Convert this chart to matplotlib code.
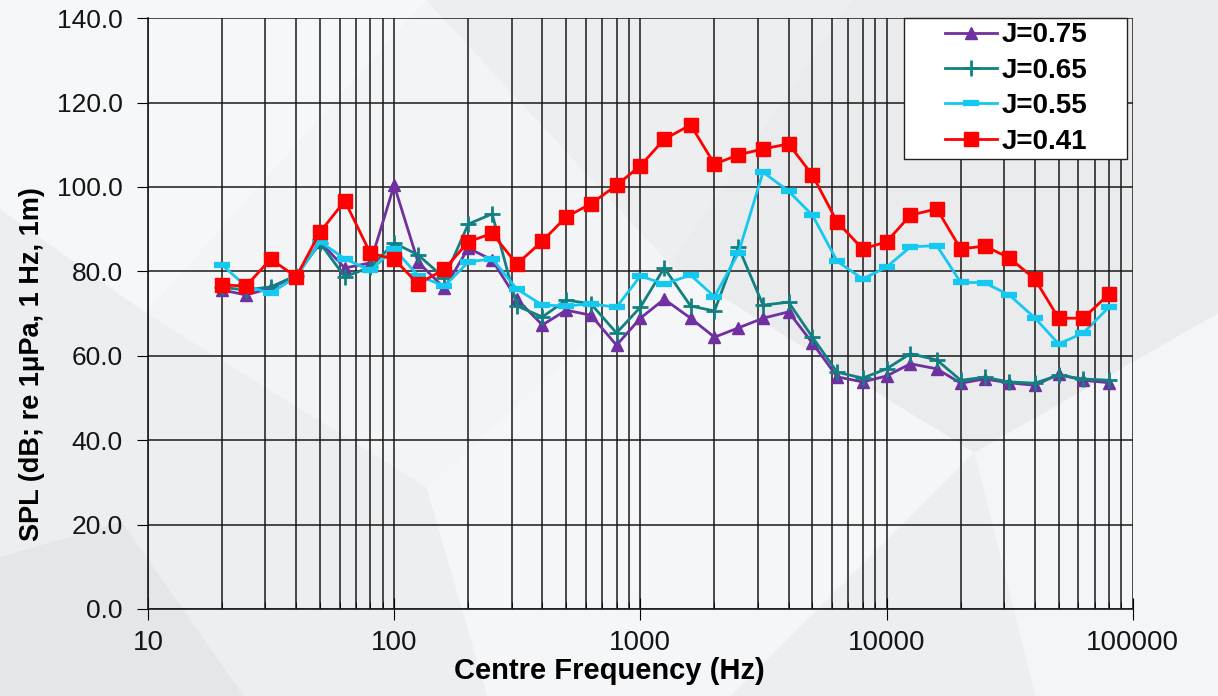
import matplotlib.pyplot as plt
from matplotlib.patches import Polygon, Rectangle
from matplotlib.ticker import LogLocator, FixedLocator, NullFormatter

# 1/3 octave centre frequencies (Hz)
freq = [20, 25, 31.5, 40, 50, 63, 80, 100, 125, 160, 200, 250, 315, 400, 500,
        630, 800, 1000, 1250, 1600, 2000, 2500, 3150, 4000, 5000, 6300, 8000,
        10000, 12500, 16000, 20000, 25000, 31500, 40000, 50000, 63000, 80000]

spl_075 = [75.6, 74.4, 76.0, 79.0, 87.0, 80.8, 82.0, 100.4, 82.2, 76.0, 85.5,
           82.7, 73.4, 67.3, 70.8, 69.6, 62.5, 68.9, 73.4, 68.9, 64.4, 66.6,
           68.9, 70.4, 63.0, 55.0, 53.8, 55.2, 58.1, 56.9, 53.5, 54.5, 53.6,
           53.0, 55.6, 54.2, 53.6]
spl_065 = [76.2, 75.6, 76.3, 79.0, 86.7, 78.7, 81.0, 86.7, 83.9, 78.4, 91.2,
           93.6, 71.8, 69.2, 73.2, 72.3, 65.4, 71.5, 80.8, 71.8, 70.6, 85.8,
           72.0, 72.7, 64.4, 56.1, 54.7, 56.9, 60.5, 59.0, 54.2, 54.9, 53.8,
           53.5, 55.4, 54.5, 54.2]
spl_055 = [81.5, 76.5, 74.8, 78.7, 87.0, 83.0, 80.2, 85.3, 79.0, 76.5, 82.2,
           83.0, 75.8, 72.0, 71.8, 72.3, 71.5, 78.9, 77.0, 79.1, 74.0, 84.3,
           103.5, 99.0, 93.3, 82.4, 78.2, 81.0, 85.8, 86.1, 77.4, 77.3, 74.4,
           69.0, 62.8, 65.4, 71.5]
spl_041 = [76.8, 76.5, 82.9, 78.7, 89.3, 96.7, 84.3, 82.9, 77.0, 80.5, 87.0,
           89.0, 81.7, 87.2, 92.9, 96.0, 100.4, 105.0, 111.3, 114.7, 105.4,
           107.6, 109.0, 110.2, 102.8, 91.7, 85.3, 87.0, 93.3, 94.8, 85.3, 86.0,
           83.2, 78.2, 68.9, 68.9, 74.6]

series = [
    ("J=0.75", spl_075, "#7030A0", "^", dict(markersize=9)),
    ("J=0.65", spl_065, "#128080", "+", dict(markersize=11, markeredgewidth=2)),
    ("J=0.55", spl_055, "#14C8F0", "_", dict(markersize=11, markeredgewidth=4.5)),
    ("J=0.41", spl_041, "#FF0000", "s", dict(markersize=10)),
]

FONT = ["Liberation Sans", "DejaVu Sans"]

fig = plt.figure(figsize=(12.18, 6.96), dpi=100, facecolor="#eceef0")

# light geometric background
bg = fig.add_axes([0, 0, 1, 1], zorder=-1)
bg.set_xlim(0, 1)
bg.set_ylim(0, 1)
bg.axis("off")
shapes = [
    ([(0.0, 1.0), (0.35, 1.0), (0.12, 0.55), (0.0, 0.7)], "#f6f7f8"),
    ([(0.12, 0.55), (0.35, 1.0), (0.55, 0.62), (0.35, 0.3)], "#f3f4f5"),
    ([(0.35, 0.3), (0.55, 0.62), (0.8, 0.35), (0.6, 0.0), (0.4, 0.0)], "#f5f6f7"),
    ([(0.55, 0.62), (0.7, 1.0), (1.0, 1.0), (1.0, 0.55), (0.8, 0.35)], "#e9ebed"),
    ([(0.8, 0.35), (1.0, 0.55), (1.0, 0.0), (0.85, 0.0)], "#f4f5f6"),
    ([(0.0, 0.0), (0.2, 0.0), (0.1, 0.25), (0.0, 0.2)], "#e4e6e8"),
]
for pts, c in shapes:
    bg.add_patch(Polygon(pts, closed=True, facecolor=c, edgecolor="none"))

ax = fig.add_axes([0.1215, 0.125, 0.8085, 0.849])
ax.patch.set_alpha(0)

for label, vals, color, marker, mk in series:
    ax.plot(freq, vals, color=color, marker=marker, linewidth=2,
            markerfacecolor=color, markeredgecolor=color, label=label, **mk)

ax.set_xscale("log")
ax.set_xlim(10, 100000)
ax.set_ylim(0, 140)
ax.set_yticks(range(0, 141, 20))
ax.set_yticklabels([f"{v:.1f}" for v in range(0, 141, 20)])
ax.xaxis.set_major_locator(FixedLocator([10, 100, 1000, 10000, 100000]))
ax.set_xticklabels(["10", "100", "1000", "10000", "100000"])
ax.xaxis.set_minor_locator(LogLocator(base=10, subs=range(2, 10)))
ax.xaxis.set_minor_formatter(NullFormatter())

ax.grid(True, which="both", axis="x", color="#1a1a1a", linewidth=1.1)
ax.grid(True, which="major", axis="y", color="#1a1a1a", linewidth=1.1)
ax.set_axisbelow(True)

for s in ["top", "right"]:
    ax.spines[s].set_visible(False)
for s in ["left", "bottom"]:
    ax.spines[s].set_color("#1a1a1a")
    ax.spines[s].set_linewidth(1.2)

ax.tick_params(axis="y", which="major", direction="out", length=8,
               labelsize=19, labelcolor="#151515", pad=10)
ax.tick_params(axis="x", which="major", direction="inout", length=16,
               labelsize=20, labelcolor="#151515", pad=7)
ax.tick_params(axis="x", which="minor", direction="in", length=5)
for t in ax.get_xticklabels() + ax.get_yticklabels():
    t.set_family(FONT)

ax.set_xlabel("Centre Frequency (Hz)", fontsize=21, fontweight="bold",
              family=FONT, labelpad=0)
ax.xaxis.set_label_coords(0.469, -0.082)
ax.set_ylabel("SPL (dB; re 1\u03bcPa, 1 Hz, 1m)", fontsize=19.5,
              fontweight="bold", family=FONT)
ax.yaxis.set_label_coords(-0.105, 0.415)

leg = ax.legend(loc="upper right", bbox_to_anchor=(0.958, 1.0), frameon=False,
                prop={"family": FONT, "weight": "bold", "size": 20},
                handlelength=1.9, labelspacing=0.34, borderpad=0.15,
                handletextpad=0.15, borderaxespad=0)

# white legend box, wider than the legend content as in the original
fig.canvas.draw()
bb = leg.get_window_extent().transformed(fig.transFigure.inverted())
padx = 36 / fig.bbox.width
ax.add_patch(Rectangle((bb.x0 - padx, bb.y0), bb.width + 2 * padx, bb.height,
                       transform=fig.transFigure, facecolor="white",
                       edgecolor="#222222", linewidth=1.0, zorder=4.9,
                       clip_on=False))

fig.savefig("out.png", dpi=100, facecolor=fig.get_facecolor())
